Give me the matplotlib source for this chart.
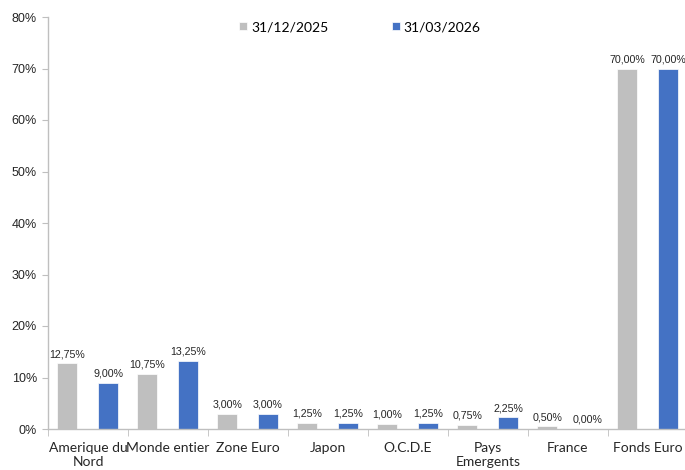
import matplotlib
matplotlib.use("Agg")
import matplotlib.pyplot as plt
import numpy as np

categories = ["Amerique du\nNord", "Monde entier", "Zone Euro", "Japon",
              "O.C.D.E", "Pays\nEmergents", "France", "Fonds Euro"]
series_names = ["31/12/2025", "31/03/2026"]
values_dec = [12.75, 10.75, 3.00, 1.25, 1.00, 0.75, 0.50, 70.00]
values_mar = [9.00, 13.25, 3.00, 1.25, 1.25, 2.25, 0.00, 70.00]
y_ticks = [0, 10, 20, 30, 40, 50, 60, 70, 80]

GREY = "#bfbfbf"
BLUE = "#4472c4"
AXIS = "#bfbfbf"

fig = plt.figure(figsize=(6.85, 4.70), dpi=100)
# axes run a little past the right edge, like the reference crop
ax = fig.add_axes([48 / 685, 41 / 470, 640 / 685, 412 / 470])

x = np.arange(len(categories))
w = 0.25
b1 = ax.bar(x - 0.26, values_dec, w, color=GREY, edgecolor="white", linewidth=0.5,
            label=series_names[0])
b2 = ax.bar(x + 0.25, values_mar, w, color=BLUE, edgecolor="white", linewidth=0.5,
            label=series_names[1])

for bars in (b1, b2):
    for r in bars:
        v = r.get_height()
        ax.annotate(("%.2f%%" % v).replace(".", ","),
                    (r.get_x() + r.get_width() / 2, v),
                    xytext=(0, 3), textcoords="offset points",
                    ha="center", va="bottom", fontsize=7.7,
                    family="Liberation Sans", color="#262626")

ax.set_xlim(-0.5, len(categories) - 0.5)
ax.set_ylim(0, 80)
ax.set_yticks(y_ticks)
ax.set_yticklabels(["%d%%" % t for t in y_ticks], family="Liberation Sans",
                   fontsize=9, color="#262626")

# category labels in the middle, tick marks at the boundaries
ax.set_xticks(x)
ax.set_xticklabels(categories, family="Lato", fontsize=10, color="#262626",
                   linespacing=1.3)
ax.tick_params(axis="x", which="major", length=0, pad=9)
ax.set_xticks(np.arange(-0.5, len(categories) + 0.5, 1), minor=True)
ax.tick_params(axis="x", which="minor", length=5, color=AXIS, direction="out")
ax.tick_params(axis="y", length=4, color=AXIS, direction="out", pad=4)

for s in ("top", "right"):
    ax.spines[s].set_visible(False)
for s in ("left", "bottom"):
    ax.spines[s].set_color(AXIS)
    ax.spines[s].set_linewidth(1)

fig.legend(loc="center", bbox_to_anchor=(360 / 685, 1 - 27 / 470), ncol=2,
           frameon=False, handlelength=0.55, handleheight=0.55, handletextpad=0.3,
           columnspacing=4.6, prop={"family": "Lato", "size": 10})

fig.savefig("out.png", dpi=100)
